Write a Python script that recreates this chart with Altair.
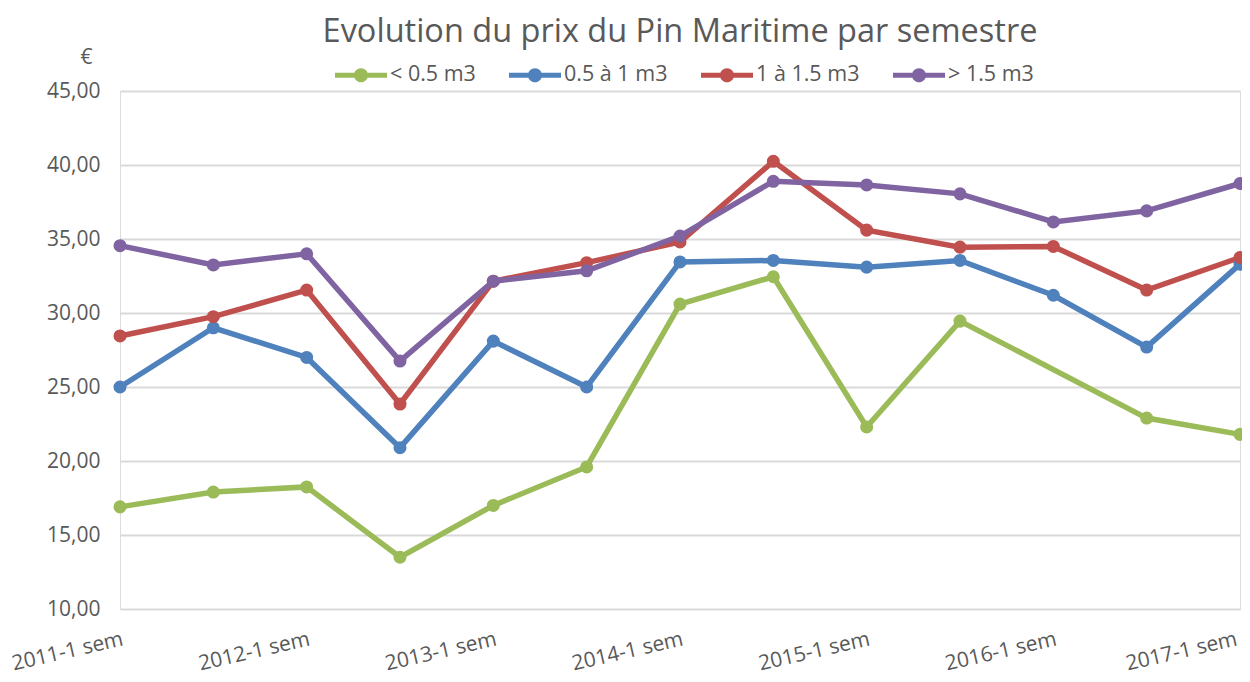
import altair as alt
import pandas as pd

semesters = [
    "2011-1 sem", "2011-2 sem", "2012-1 sem", "2012-2 sem", "2013-1 sem",
    "2013-2 sem", "2014-1 sem", "2014-2 sem", "2015-1 sem", "2015-2 sem",
    "2016-1 sem", "2016-2 sem", "2017-1 sem",
]
tick_labels = ["2011-1 sem", "2012-1 sem", "2013-1 sem", "2014-1 sem",
               "2015-1 sem", "2016-1 sem", "2017-1 sem"]

series_names = ["< 0.5 m3", "0.5 à 1 m3", "1 à 1.5 m3", "> 1.5 m3"]
series_colors = ["#9BBB59", "#4F81BD", "#C0504D", "#8064A2"]

small = [16.9, 17.9, 18.25, 13.5, 17.0, 19.6, 30.6, 32.45, 22.3, 29.45, None, 22.9, 21.8]
medium = [25.0, 29.0, 27.0, 20.9, 28.1, 25.0, 33.45, 33.55, 33.1, 33.55, 31.2, 27.7, 33.3]
large = [28.45, 29.75, 31.55, 23.85, 32.15, 33.4, 34.8, 40.25, 35.6, 34.45, 34.5, 31.55, 33.75]
xlarge = [34.55, 33.25, 34.0, 26.75, 32.15, 32.85, 35.2, 38.9, 38.65, 38.05, 36.15, 36.9, 38.75]

y_ticks = [10, 15, 20, 25, 30, 35, 40, 45]

rows = []
for name, vals in zip(series_names, [small, medium, large, xlarge]):
    for s, v in zip(semesters, vals):
        if v is not None:
            rows.append({"semestre": s, "prix": v, "serie": name})
df = pd.DataFrame(rows)

FONT = "Open Sans"
GREY = "#595959"

legend_symbol = ("M-1,-0.1H1V0.1H-1Z "
                 "M-0.27,0A0.27,0.27 0 1,1 0.27,0A0.27,0.27 0 1,1 -0.27,0Z")

base = alt.Chart(df).encode(
    x=alt.X(
        "semestre:O",
        sort=semesters,
        scale=alt.Scale(padding=0),
        axis=alt.Axis(
            values=tick_labels,
            title=None,
            labelAngle=-13,
            labelPadding=19,
            labelOffset={"condition": {"test": f"datum.value == '{tick_labels[-1]}'",
                                       "value": -6}, "value": 0},
            labelFontSize=21,
            labelColor=GREY,
            labelFont=FONT,
            domain=False,
            ticks=False,
            grid=False,
        ),
    ),
    y=alt.Y(
        "prix:Q",
        scale=alt.Scale(domain=[10, 45], nice=False, zero=False),
        axis=alt.Axis(
            values=y_ticks,
            labelExpr="replace(format(datum.value, '.2f'), '.', ',')",
            title="€",
            titleAngle=0,
            titleAlign="center",
            titleBaseline="middle",
            titleX=-34,
            titleY=-34,
            titleFontSize=21,
            titleFontWeight="normal",
            titleColor=GREY,
            titleFont=FONT,
            labelFontSize=21,
            labelColor=GREY,
            labelFont=FONT,
            labelPadding=20,
            domain=False,
            ticks=False,
            grid=True,
            gridColor="#D9D9D9",
            gridWidth=2,
        ),
    ),
    color=alt.Color(
        "serie:N",
        scale=alt.Scale(domain=series_names, range=series_colors),
        legend=alt.Legend(
            title=None,
            orient="none",
            legendX=215,
            legendY=-42,
            direction="horizontal",
            padding=0,
            symbolType=legend_symbol,
            symbolSize=2704,
            symbolStrokeWidth=0,
            labelFontSize=21.5,
            labelColor=GREY,
            labelFont=FONT,
            labelOffset=3,
            columnPadding=33,
        ),
    ),
)

lines = base.mark_line(strokeWidth=5.5)
points = base.mark_point(filled=True, size=170, opacity=1)

chart = alt.layer(lines, points).properties(
    width=1120,
    height=518,
    autosize=alt.AutoSizeParams(type="none"),
    padding={"left": 112, "top": 83, "right": 2, "bottom": 73},
    title=alt.TitleParams(
        "Evolution du prix du Pin Maritime par semestre",
        fontSize=32.5,
        font=FONT,
        fontWeight="normal",
        color=GREY,
        anchor="middle",
        frame="group",
        offset=-2,
    ),
).configure_view(stroke=None).configure(background="white")

chart.save("out.html", embed_options={"renderer": "svg", "actions": False})
